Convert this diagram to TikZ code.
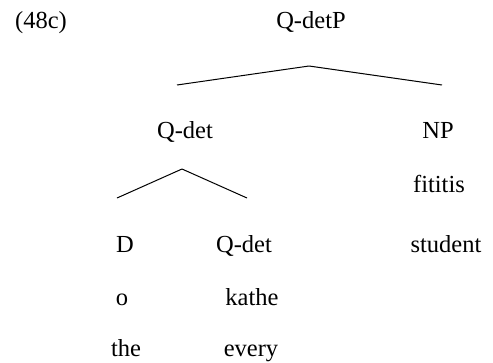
\documentclass[tikz,border=0pt]{standalone}
\usepackage{fontspec}
\setmainfont{Liberation Serif}

\begin{document}
\begin{tikzpicture}[x=1pt,y=-1pt,line width=1pt,word/.style={anchor=base,inner sep=0pt,font=\fontsize{24.5}{29}\selectfont}]
    \useasboundingbox (0,0) rectangle (493,362);
    \node[word] (ex) at (41,28) {(48c)};
    \node[word] (qdetp) at (311,28) {Q-detP};
    \node[word] (qdet) at (185,138) {Q-det};
    \node[word] (np) at (438,138) {NP};
    \node[word] (fititis) at (439,192) {fititis};
    \node[word] (d) at (125,252) {D};
    \node[word] (qdet2) at (244,252) {Q-det};
    \node[word] (student) at (446,252) {student};
    \node[word] (o) at (122,305) {o};
    \node[word] (kathe) at (252,305) {kathe};
    \node[word] (the) at (126,356) {the};
    \node[word] (every) at (251,356) {every};

    \coordinate (top) at (309,66);
    \coordinate (topl) at (177,85);
    \coordinate (topr) at (442,85);
    \coordinate (mid) at (182,169);
    \coordinate (midl) at (117,198);
    \coordinate (midr) at (247,198);

    \draw (top) -- (topl);
    \draw (top) -- (topr);
    \draw (mid) -- (midl);
    \draw (mid) -- (midr);
\end{tikzpicture}
\end{document}
